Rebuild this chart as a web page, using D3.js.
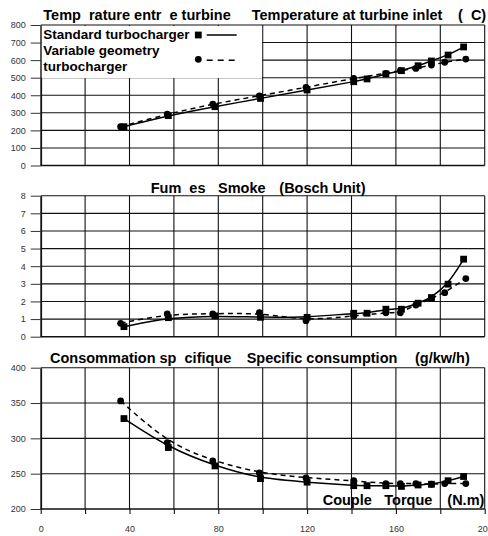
<!DOCTYPE html>
<html>
<head>
<meta charset="utf-8">
<script src="https://cdn.jsdelivr.net/npm/d3@7/dist/d3.min.js"></script>
<style>
  html, body { margin: 0; padding: 0; background: #fff; }
  svg text { font-family: "Liberation Sans", Arial, sans-serif; white-space: pre; }
</style>
</head>
<body>
<svg id="chart" width="488" height="536"></svg>
<script>
// Torque (N.m) at each measured operating point
const torqueStd = [37.5, 57.5, 78.5, 99, 120, 141, 147, 155.5, 162.5, 170, 176, 183.5, 190.5];
const torqueVgt = [36, 57, 77.5, 98.5, 119.5, 141, 155.5, 162, 169, 176, 182, 191.5];

// Turbine inlet temperature (C)
const tempStd = [221, 284, 335, 382, 430, 477, 493, 521, 540, 568, 595, 629, 675];
const tempVgt = [221, 293, 350, 397, 445, 496, 525, 540, 553, 572, 588, 606];

// Smoke (Bosch unit)
const smokeStd = [0.57, 1.08, 1.18, 1.10, 1.10, 1.33, 1.33, 1.56, 1.56, 1.90, 2.22, 2.98, 4.40];
const smokeVgt = [0.76, 1.29, 1.29, 1.36, 0.91, 1.18, 1.36, 1.36, 1.80, 2.18, 2.50, 3.30];

// Specific consumption (g/kW/h)
const consStd = [328, 287, 261, 243, 238, 233, 233, 233, 232, 234, 235, 240, 246];
const consVgt = [353, 294, 268, 251, 244, 240, 236, 236, 236, 235, 236, 236];

const xTicks = [0, 20, 40, 60, 80, 100, 120, 140, 160, 180, 200];
const tempTicks = [0, 100, 200, 300, 400, 500, 600, 700, 800];
const smokeTicks = [0, 1, 2, 3, 4, 5, 6, 7, 8];
const consTicks = [200, 250, 300, 350, 400];

// Bilingual titles, each part set at its own start position
const titleTemp = ["Temp  rature entr  e turbine", "Temperature at turbine inlet", "(  C)"];
const titleSmoke = ["Fum  es", "Smoke", "(Bosch Unit)"];
const titleCons = ["Consommation sp  cifique", "Specific consumption", "(g/kw/h)"];
const xTitle = ["Couple", "Torque", "(N.m)"];
const legendStd = "Standard turbocharger";
const legendVgt = ["Variable geometry", "turbocharger"];

const svg = d3.select("#chart");
const x = d3.scaleLinear().domain([0, 200]).range([40.7, 484.7]);

const panels = [
  { ticks: tempTicks, range: [165.5, 25], std: tempStd, vgt: tempVgt },
  { ticks: smokeTicks, range: [336.7, 195.7], std: smokeStd, vgt: smokeVgt },
  { ticks: consTicks, range: [509, 367.7], std: consStd, vgt: consVgt }
];

const ink = "#111";

panels.forEach((p, i) => {
  const y = d3.scaleLinear().domain(d3.extent(p.ticks)).range(p.range);
  p.y = y;
  const g = svg.append("g");

  // horizontal grid
  g.selectAll("line.h").data(p.ticks).join("line")
    .attr("x1", x(0)).attr("x2", x(200))
    .attr("y1", d => y(d)).attr("y2", d => y(d))
    .attr("stroke", ink).attr("stroke-width", d => d === p.ticks[0] ? 1.6 : 1.1);

  // vertical grid
  g.selectAll("line.v").data(xTicks.slice(1)).join("line")
    .attr("x1", d => x(d)).attr("x2", d => x(d))
    .attr("y1", y.range()[0]).attr("y2", y.range()[1])
    .attr("stroke", ink).attr("stroke-width", 1.1);

  // left axis with outside ticks
  const ax = g.append("g")
    .attr("transform", `translate(${x(0)},0)`)
    .call(d3.axisLeft(y).tickValues(p.ticks).tickSize(10).tickSizeOuter(0).tickPadding(5));
  ax.select(".domain").attr("stroke", ink).attr("stroke-width", 1.8);
  ax.selectAll(".tick line").attr("stroke", "#333").attr("stroke-width", 1);
  ax.selectAll(".tick text").attr("font-size", 9).attr("fill", "#333")
    .style("font-family", "'Liberation Sans', Arial, sans-serif");

  if (i === 2) {
    const bx = g.append("g")
      .attr("transform", `translate(0,${y.range()[0]})`)
      .call(d3.axisBottom(x).tickValues(xTicks).tickSize(5).tickSizeOuter(0).tickPadding(12)
        .tickFormat(d => d % 40 === 0 ? d : ""));
    bx.select(".domain").remove();
    bx.selectAll(".tick line").attr("stroke", ink).attr("stroke-width", 1.1);
    bx.selectAll(".tick text").attr("font-size", 9).attr("fill", "#333")
      .style("font-family", "'Liberation Sans', Arial, sans-serif");
  }
});

// legend box sits over the top-left grid cells
const yT = panels[0].y;
svg.append("rect")
  .attr("x", x(0) + 1).attr("y", yT(800) + 1)
  .attr("width", x(100) - x(0) - 1.6).attr("height", yT(500) - yT(800) - 0.6)
  .attr("fill", "#fff");

// series
panels.forEach(p => {
  const y = p.y;
  const line = d3.line().curve(d3.curveBasis).x(d => x(d[0])).y(d => y(d[1]));
  const ptsStd = torqueStd.map((t, k) => [t, p.std[k]]);
  const ptsVgt = torqueVgt.map((t, k) => [t, p.vgt[k]]);

  svg.append("path").datum(ptsVgt).attr("d", line)
    .attr("fill", "none").attr("stroke", "#000").attr("stroke-width", 1.5)
    .attr("stroke-dasharray", "5,4");
  svg.append("path").datum(ptsStd).attr("d", line)
    .attr("fill", "none").attr("stroke", "#000").attr("stroke-width", 1.5);

  svg.append("g").selectAll("circle").data(ptsVgt).join("circle")
    .attr("cx", d => x(d[0])).attr("cy", d => y(d[1])).attr("r", 3.4).attr("fill", "#000");
  svg.append("g").selectAll("rect").data(ptsStd).join("rect")
    .attr("x", d => x(d[0]) - 3.4).attr("y", d => y(d[1]) - 3.4)
    .attr("width", 6.8).attr("height", 6.8).attr("fill", "#000");
});

// titles
const bold = (txt, px, py, size) => svg.append("text")
  .attr("x", px).attr("y", py).attr("font-size", size).attr("font-weight", "bold")
  .attr("fill", "#000").text(txt);
const titleRow = (parts, xs, py) => parts.forEach((t, k) => bold(t, xs[k], py, 14.5));

titleRow(titleTemp, [43.3, 251.7, 458], 20);
titleRow(titleSmoke, [150.7, 218, 279.3], 193.3);
titleRow(titleCons, [50, 246.7, 415], 362.7);
titleRow(xTitle, [322.7, 384.3, 447.3], 504.7);

// legend
bold(legendStd, 43.3, 39.3, 13.5);
bold(legendVgt[0], 43.3, 55, 13.5);
bold(legendVgt[1], 43.3, 70.5, 13.5);
svg.append("rect").attr("x", 198.3 - 3.4).attr("y", 35 - 3.4).attr("width", 6.8).attr("height", 6.8).attr("fill", "#000");
svg.append("line").attr("x1", 206.7).attr("x2", 236.7).attr("y1", 35).attr("y2", 35)
  .attr("stroke", "#000").attr("stroke-width", 1.5);
svg.append("circle").attr("cx", 198.3).attr("cy", 59.3).attr("r", 3.4).attr("fill", "#000");
svg.append("line").attr("x1", 206.7).attr("x2", 236.7).attr("y1", 60.3).attr("y2", 60.3)
  .attr("stroke", "#000").attr("stroke-width", 1.5).attr("stroke-dasharray", "6,5");
</script>
</body>
</html>
